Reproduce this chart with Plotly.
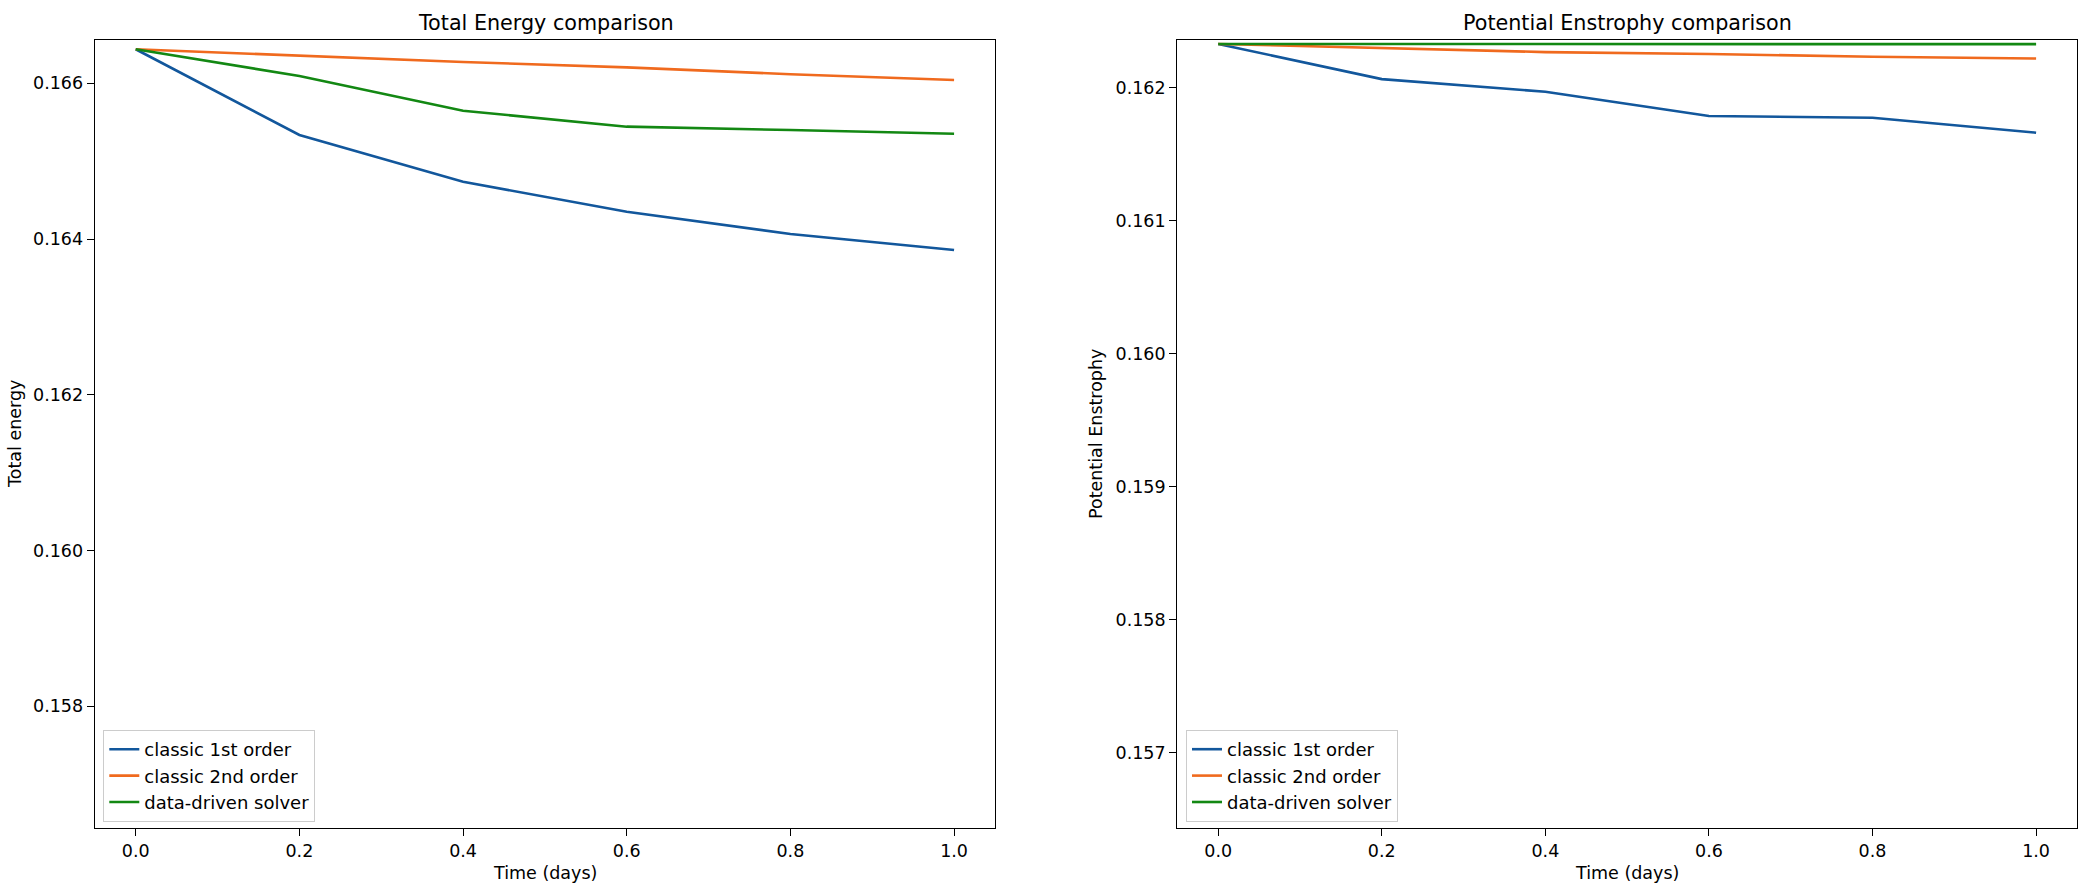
import plotly.graph_objects as go

W, H = 2091, 888

time_days = [0.0, 0.2, 0.4, 0.6, 0.8, 1.0]

energy_1st = [0.166437, 0.165336, 0.164736, 0.164351, 0.164065, 0.163859]
energy_2nd = [0.166437, 0.166351, 0.166274, 0.166205, 0.166116, 0.166042]
energy_dd = [0.166437, 0.166094, 0.165648, 0.165443, 0.165400, 0.165353]

enstrophy_1st = [0.162329, 0.162065, 0.161970, 0.161787, 0.161774, 0.161662]
enstrophy_2nd = [0.162329, 0.162298, 0.162268, 0.162254, 0.162233, 0.162220]
enstrophy_dd = [0.162329, 0.162328, 0.162328, 0.162328, 0.162328, 0.162328]

series_names = ["classic 1st order", "classic 2nd order", "data-driven solver"]
colors = ["#12579c", "#f06a1e", "#138813"]

left_yticks = [0.158, 0.160, 0.162, 0.164, 0.166]
right_yticks = [0.157, 0.158, 0.159, 0.160, 0.161, 0.162]
xticks = [0.0, 0.2, 0.4, 0.6, 0.8, 1.0]

FONT = "DejaVu Sans"

fig = go.Figure()

for name, vals, c in zip(series_names, [energy_1st, energy_2nd, energy_dd], colors):
    fig.add_trace(go.Scatter(x=time_days, y=vals, mode="lines", name=name,
                             line=dict(color=c, width=2.6), xaxis="x", yaxis="y",
                             legend="legend"))
for name, vals, c in zip(series_names, [enstrophy_1st, enstrophy_2nd, enstrophy_dd], colors):
    fig.add_trace(go.Scatter(x=time_days, y=vals, mode="lines", name=name,
                             line=dict(color=c, width=2.6), xaxis="x2", yaxis="y2",
                             legend="legend2"))

def px_x(p):
    return p / W

def px_y(p):
    return 1 - p / H

axis_common = dict(showgrid=False, zeroline=False, showline=True, mirror=True,
                   linecolor="#000000", linewidth=1.3, ticks="outside", ticklen=7,
                   tickwidth=1.3, tickcolor="#000000",
                   tickfont=dict(family=FONT, size=17.5, color="#000000"))

legend_common = dict(xanchor="left", yanchor="bottom",
                     bgcolor="rgba(255,255,255,0.8)", bordercolor="#cccccc", borderwidth=1,
                     entrywidth=200, entrywidthmode="pixels",
                     font=dict(family=FONT, size=18, color="#000000"))

fig.update_layout(
    width=W, height=H,
    margin=dict(l=0, r=0, t=0, b=0),
    paper_bgcolor="white", plot_bgcolor="white",
    font=dict(family=FONT, size=17, color="#000000"),
    xaxis=dict(domain=[px_x(94.8), px_x(995)], range=[-0.05, 1.05],
               tickvals=xticks, tickformat=".1f", anchor="y", **axis_common),
    yaxis=dict(domain=[px_y(827.7), px_y(40)], range=[0.156441, 0.166556],
               tickvals=left_yticks, tickformat=".3f", anchor="x", **axis_common),
    xaxis2=dict(domain=[px_x(1177.3), px_x(2077)], range=[-0.05, 1.05],
                tickvals=xticks, tickformat=".1f", anchor="y2", **axis_common),
    yaxis2=dict(domain=[px_y(827.7), px_y(40)], range=[0.156436, 0.162359],
                tickvals=right_yticks, tickformat=".3f", anchor="x2", **axis_common),
    legend=dict(x=px_x(103.3), y=px_y(822), **legend_common),
    legend2=dict(x=px_x(1186), y=px_y(822), **legend_common),
    showlegend=True,
)

annotations = [
    dict(text="Total Energy comparison", x=px_x(545.5), y=px_y(23),
         font=dict(size=20.7)),
    dict(text="Potential Enstrophy comparison", x=px_x((1177.3 + 2077) / 2), y=px_y(23),
         font=dict(size=20.7)),
    dict(text="Time (days)", x=px_x((94.8 + 995) / 2), y=px_y(873), font=dict(size=17.5)),
    dict(text="Time (days)", x=px_x((1177.3 + 2077) / 2), y=px_y(873), font=dict(size=17.5)),
    dict(text="Total energy", x=px_x(15), y=px_y(434), textangle=-90, font=dict(size=17.5)),
    dict(text="Potential Enstrophy", x=px_x(1096), y=px_y(434), textangle=-90,
         font=dict(size=17.5)),
]
for a in annotations:
    a.update(xref="paper", yref="paper", showarrow=False, xanchor="center", yanchor="middle")
    a["font"].update(family=FONT, color="#000000")
fig.update_layout(annotations=annotations)

fig.write_html("out.html", config={"displayModeBar": False},
               post_script="document.body.style.margin='0px';document.body.style.overflow='hidden';")
